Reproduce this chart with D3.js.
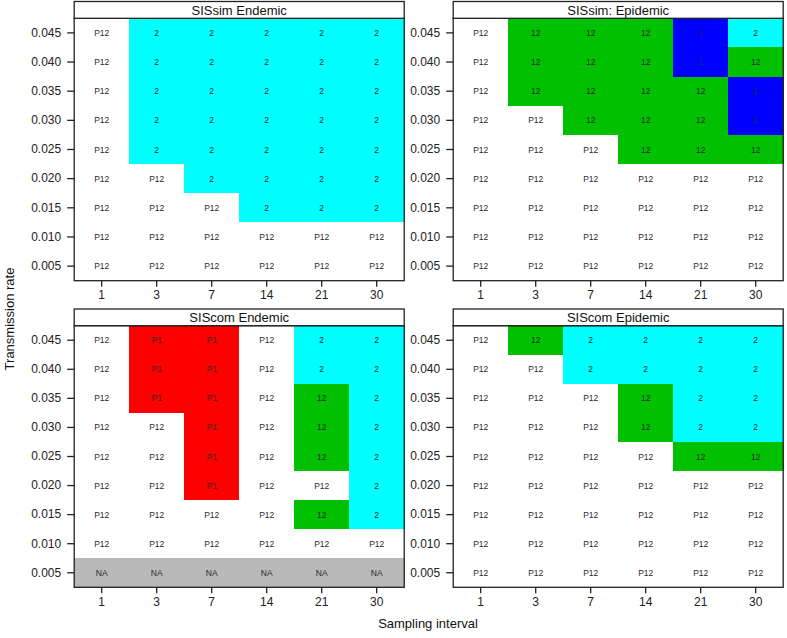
<!DOCTYPE html>
<html><head><meta charset="utf-8">
<script src="https://cdn.jsdelivr.net/npm/d3@7/dist/d3.min.js"></script>
<style>body{margin:0;background:#fff}svg{display:block;font-family:"Liberation Sans",Arial,sans-serif}</style>
</head><body><svg id="c" width="787" height="638"></svg>
<script>
const intervals = ["1","3","7","14","21","30"];
const rates = ["0.045","0.040","0.035","0.030","0.025","0.020","0.015","0.010","0.005"];
const panelTitles = ["SISsim Endemic","SISsim: Epidemic","SIScom Endemic","SIScom Epidemic"];
// rows from 0.045 (top) to 0.005 (bottom), columns = intervals
const simEndemic = [
  ["P12","2","2","2","2","2"],
  ["P12","2","2","2","2","2"],
  ["P12","2","2","2","2","2"],
  ["P12","2","2","2","2","2"],
  ["P12","2","2","2","2","2"],
  ["P12","P12","2","2","2","2"],
  ["P12","P12","P12","2","2","2"],
  ["P12","P12","P12","P12","P12","P12"],
  ["P12","P12","P12","P12","P12","P12"]
];
const simEpidemic = [
  ["P12","12","12","12","1","2"],
  ["P12","12","12","12","1","12"],
  ["P12","12","12","12","12","1"],
  ["P12","P12","12","12","12","1"],
  ["P12","P12","P12","12","12","12"],
  ["P12","P12","P12","P12","P12","P12"],
  ["P12","P12","P12","P12","P12","P12"],
  ["P12","P12","P12","P12","P12","P12"],
  ["P12","P12","P12","P12","P12","P12"]
];
const comEndemic = [
  ["P12","P1","P1","P12","2","2"],
  ["P12","P1","P1","P12","2","2"],
  ["P12","P1","P1","P12","12","2"],
  ["P12","P12","P1","P12","12","2"],
  ["P12","P12","P1","P12","12","2"],
  ["P12","P12","P1","P12","P12","2"],
  ["P12","P12","P12","P12","12","2"],
  ["P12","P12","P12","P12","P12","P12"],
  ["NA","NA","NA","NA","NA","NA"]
];
const comEpidemic = [
  ["P12","12","2","2","2","2"],
  ["P12","P12","2","2","2","2"],
  ["P12","P12","P12","12","2","2"],
  ["P12","P12","P12","12","2","2"],
  ["P12","P12","P12","P12","12","12"],
  ["P12","P12","P12","P12","P12","P12"],
  ["P12","P12","P12","P12","P12","P12"],
  ["P12","P12","P12","P12","P12","P12"],
  ["P12","P12","P12","P12","P12","P12"]
];
const categories = ["P12","P1","12","2","1","NA"];
const categoryColors = ["#ffffff","#ff0000","#00c000","#00ffff","#0000ff","#b9b9b9"];

const grids = [simEndemic, simEpidemic, comEndemic, comEpidemic];
const color = d3.scaleOrdinal().domain(categories).range(categoryColors);

const svg = d3.select("#c");
const layout = [
  {x0:74.2, x1:404.2, y0:18.3, y1:280.7, s0:1.5},
  {x0:453.2, x1:783.2, y0:18.3, y1:280.7, s0:1.5},
  {x0:74.2, x1:404.2, y0:325.7, y1:587.3, s0:309},
  {x0:453.2, x1:783.2, y0:325.7, y1:587.3, s0:309}
];

layout.forEach((L, i) => {
  const x = d3.scaleBand().domain(intervals).range([L.x0, L.x1]).padding(0);
  const y = d3.scaleBand().domain(rates).range([L.y0, L.y1]).padding(0);
  const g = svg.append("g");
  const cells = [];
  grids[i].forEach((row, r) => row.forEach((v, c) => cells.push({r: rates[r], c: intervals[c], v})));
  g.selectAll("rect.cell").data(cells).join("rect")
    .attr("x", d => x(d.c)).attr("y", d => y(d.r))
    .attr("width", x.bandwidth() + 0.6).attr("height", y.bandwidth() + 0.6)
    .attr("shape-rendering","crispEdges")
    .attr("fill", d => color(d.v));
  g.selectAll("text.cell").data(cells).join("text")
    .attr("x", d => x(d.c) + x.bandwidth()/2).attr("y", d => y(d.r) + y.bandwidth()/2)
    .attr("text-anchor","middle").attr("dominant-baseline","central")
    .attr("font-size", 8.5).attr("fill","#2a2a2a").text(d => d.v);
  // box
  g.append("rect").attr("x", L.x0).attr("y", L.y0).attr("width", L.x1-L.x0).attr("height", L.y1-L.y0)
    .attr("fill","none").attr("stroke","#222").attr("stroke-width",1.3);
  // strip
  g.append("rect").attr("x", L.x0).attr("y", L.s0).attr("width", L.x1-L.x0).attr("height", L.y0-L.s0)
    .attr("fill","#fff").attr("stroke","#222").attr("stroke-width",1.3);
  g.append("text").attr("x",(L.x0+L.x1)/2).attr("y",(L.s0+L.y0)/2+0.5)
    .attr("text-anchor","middle").attr("dominant-baseline","central")
    .attr("font-size",13).attr("fill","#111").text(panelTitles[i]);
  // axes
  const xa = g.append("g").attr("transform",`translate(0,${L.y1})`)
    .call(d3.axisBottom(x).tickSize(6).tickPadding(4));
  xa.select(".domain").remove();
  xa.selectAll("line").attr("stroke","#222").attr("stroke-width",1.3);
  xa.selectAll("text").attr("font-size",12).attr("fill","#222").attr("font-family","Liberation Sans, Arial, sans-serif");
  const ya = g.append("g").attr("transform",`translate(${L.x0},0)`)
    .call(d3.axisLeft(y).tickSize(7).tickPadding(6));
  ya.select(".domain").remove();
  ya.selectAll("line").attr("stroke","#222").attr("stroke-width",1.3);
  ya.selectAll("text").attr("font-size",12).attr("fill","#222").attr("font-family","Liberation Sans, Arial, sans-serif");
});

svg.append("text").attr("x",428).attr("y",628).attr("text-anchor","middle")
  .attr("font-size",13).attr("fill","#111").text("Sampling interval");
svg.append("text").attr("transform","translate(14,319) rotate(-90)").attr("text-anchor","middle")
  .attr("font-size",13).attr("fill","#111").text("Transmission rate");
</script></body></html>
